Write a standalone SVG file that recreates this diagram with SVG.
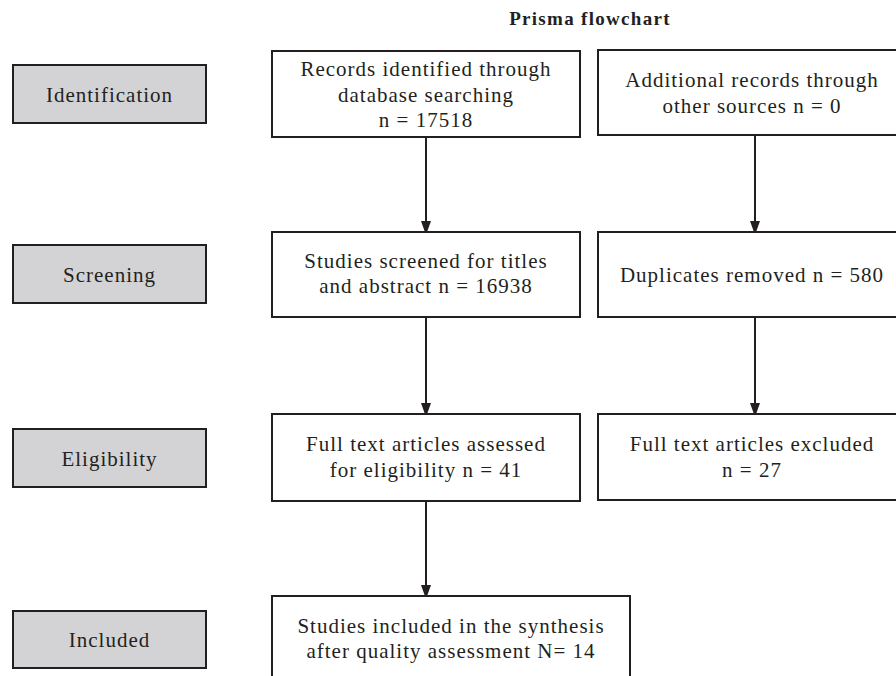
<svg xmlns="http://www.w3.org/2000/svg" width="896" height="676" viewBox="0 0 896 676">
<defs>
<style>
.box{fill:#fff;stroke:#231f20;stroke-width:2}
.stage{fill:#d3d3d5;stroke:#231f20;stroke-width:2}
text{font-family:"Liberation Serif","Times New Roman",serif;font-size:21px;fill:#231f20;text-anchor:middle;letter-spacing:1px}
.title{font-weight:bold;font-size:19px;letter-spacing:1.3px}
.conn{stroke:#231f20;stroke-width:2;fill:none;marker-end:url(#arr)}
</style>
<marker id="arr" viewBox="0 0 10 14" refX="10" refY="5" markerWidth="10" markerHeight="14" markerUnits="userSpaceOnUse" orient="auto">
<path d="M0,0 L14,5 L0,10 Z" fill="#231f20"/>
</marker>
</defs>
<rect width="896" height="676" fill="#fff"/>
<text class="title" x="590" y="25">Prisma flowchart</text>

<g id="identification"><rect class="stage" x="13" y="65" width="193" height="58"/><text x="109.5" y="101.5">Identification</text></g>
<g id="screening"><rect class="stage" x="13" y="245" width="193" height="58"/><text x="109.5" y="281.5">Screening</text></g>
<g id="eligibility"><rect class="stage" x="13" y="429" width="193" height="58"/><text x="109.5" y="465.5">Eligibility</text></g>
<g id="included"><rect class="stage" x="13" y="611" width="193" height="57"/><text x="109.5" y="646.5">Included</text></g>

<g id="records"><rect class="box" x="272" y="51" width="308" height="86"/>
<text x="426" y="76">Records identified through</text>
<text x="426" y="102">database searching</text>
<text x="426" y="127">n = 17518</text></g>
<g id="additional"><rect class="box" x="598" y="50" width="312" height="85"/>
<text x="752" y="87">Additional records through</text>
<text x="752" y="113">other sources n = 0</text></g>
<g id="screened"><rect class="box" x="272" y="232" width="308" height="85"/>
<text x="426" y="268">Studies screened for titles</text>
<text x="426" y="293">and abstract n = 16938</text></g>
<g id="duplicates"><rect class="box" x="598" y="232" width="312" height="85"/>
<text x="752" y="282">Duplicates removed n = 580</text></g>
<g id="assessed"><rect class="box" x="272" y="414" width="308" height="87"/>
<text x="426" y="451">Full text articles assessed</text>
<text x="426" y="477">for eligibility n = 41</text></g>
<g id="excluded"><rect class="box" x="598" y="414" width="312" height="86"/>
<text x="752" y="451">Full text articles excluded</text>
<text x="752" y="477">n = 27</text></g>
<g id="synthesis"><rect class="box" x="272" y="596" width="358" height="100"/>
<text x="451" y="633">Studies included in the synthesis</text>
<text x="451" y="658">after quality assessment N= 14</text></g>

<g id="connectors">
<line class="conn" x1="426" y1="137" x2="426" y2="231"/>
<line class="conn" x1="755" y1="135" x2="755" y2="231"/>
<line class="conn" x1="426" y1="317" x2="426" y2="413"/>
<line class="conn" x1="755" y1="317" x2="755" y2="413"/>
<line class="conn" x1="426" y1="501" x2="426" y2="595"/>
</g>
</svg>
